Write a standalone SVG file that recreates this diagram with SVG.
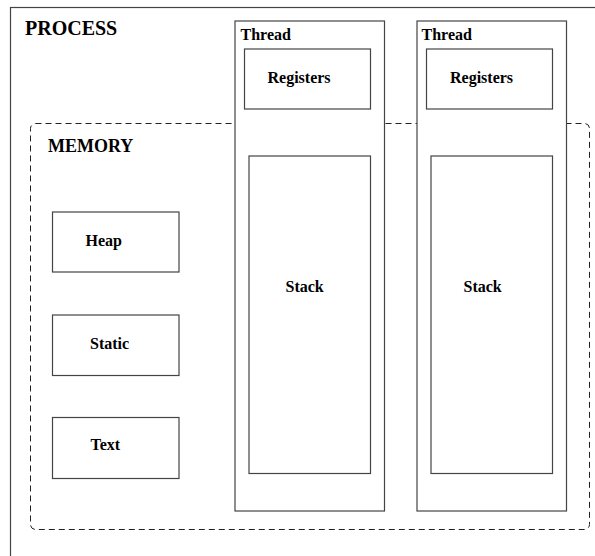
<svg xmlns="http://www.w3.org/2000/svg" width="595" height="556" viewBox="0 0 595 556">
<style>
.box{fill:#fff;stroke:#444;stroke-width:1.2}
.dash{fill:none;stroke:#222;stroke-width:1;stroke-dasharray:6,4}
text{font-family:"Liberation Serif","Times New Roman",serif;font-weight:bold;fill:#000}
.t16{font-size:16px}
</style>
<rect width="595" height="556" fill="#fff"/>
<g id="process">
<rect class="box" x="10.5" y="7.5" width="600" height="560"/>
<text x="25" y="35" style="font-size:20px">PROCESS</text>
</g>
<g id="memory">
<rect class="dash" x="30.5" y="123.5" width="559" height="406" rx="5" ry="5"/>
<text x="48" y="152" style="font-size:18px">MEMORY</text>
</g>
<g id="heap">
<rect class="box" x="52.5" y="212" width="126.5" height="60"/>
<text class="t16" x="85.5" y="246">Heap</text>
</g>
<g id="static">
<rect class="box" x="52.5" y="315" width="126.5" height="60.5"/>
<text class="t16" x="90" y="348.5">Static</text>
</g>
<g id="text">
<rect class="box" x="52.5" y="417.5" width="126.5" height="61"/>
<text class="t16" x="90.5" y="449.5">Text</text>
</g>
<g id="thread1">
<rect class="box" x="235" y="21" width="149.5" height="490"/>
<text class="t16" x="240.5" y="40">Thread</text>
</g>
<g id="registers1">
<rect class="box" x="244.5" y="49" width="126" height="60"/>
<text class="t16" x="267.5" y="82.5">Registers</text>
</g>
<g id="stack1">
<rect class="box" x="249" y="156" width="121.5" height="317.5"/>
<text class="t16" x="285.5" y="292">Stack</text>
</g>
<g id="thread2">
<rect class="box" x="417" y="21" width="149.5" height="490"/>
<text class="t16" x="421.5" y="40">Thread</text>
</g>
<g id="registers2">
<rect class="box" x="426.5" y="49" width="126" height="60"/>
<text class="t16" x="450" y="82.5">Registers</text>
</g>
<g id="stack2">
<rect class="box" x="431" y="156" width="121.5" height="317.5"/>
<text class="t16" x="463.5" y="292">Stack</text>
</g>
<g id="connectors"></g>
</svg>
